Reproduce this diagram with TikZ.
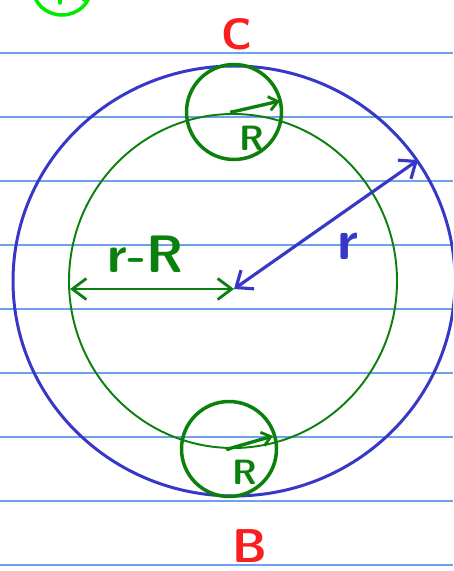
\documentclass[tikz,border=0pt]{standalone}
\usetikzlibrary{arrows.meta}
\definecolor{penblue}{RGB}{55,55,200}
\definecolor{pengreen}{RGB}{12,128,12}
\definecolor{penred}{RGB}{250,30,30}
\definecolor{rulecol}{RGB}{110,160,235}
\definecolor{limegr}{RGB}{0,235,0}
\tikzset{
  rulerline/.style={rulecol, line width=0.9pt},
  bigcirc/.style={penblue, line width=1.7pt},
  midcirc/.style={pengreen, line width=1.1pt},
  smallcirc/.style={pengreen, line width=2pt},
  radarrow/.style={pengreen, line width=1.9pt, line cap=round, -{Straight Barb[length=5pt,width=8pt,line width=1.6pt]}},
  bluearrow/.style={penblue, line width=1.8pt, line cap=round, {Straight Barb[length=8pt,width=13pt,line width=1.8pt]}-{Straight Barb[length=8pt,width=13pt,line width=1.8pt]}},
  greenarrow/.style={pengreen, line width=1.5pt, line cap=round, {Straight Barb[length=8pt,width=12pt,line width=1.6pt]}-{Straight Barb[length=8pt,width=12pt,line width=1.6pt]}},
  hand/.style={inner sep=0pt},
}
\begin{document}
\begin{tikzpicture}[x=0.02cm,y=-0.02cm]
\useasboundingbox (0,0) rectangle (453,571);
\clip (0,0) rectangle (453,571);
% ruled lines
\foreach \yy in {53,117,181,245,309,373,437,501,565}
  \draw[rulerline] (0,\yy) -- (453,\yy);
% partial lime circle at top left
\draw[limegr, line width=2pt] (62,-12) ellipse (29 and 27);
\draw[limegr, line width=2pt, line cap=round] (60,0) -- (60,3);
\draw[limegr, line width=2pt, line cap=round] (84,-2) -- (84,0);
% big circles
\coordinate (O) at (234,289);
\draw[bigcirc] (234,281) ellipse (221 and 215);
\draw[midcirc] (233,281) ellipse (164 and 167);
% small circles
\node[smallcirc, draw, circle, inner sep=0pt, minimum size=1.9cm] (top) at (234,112) {};
\node[smallcirc, draw, circle, inner sep=0pt, minimum size=1.9cm] (bot) at (229,449) {};
% radius arrows R
\coordinate (tc) at (232,112);
\coordinate (te) at (280,101);
\coordinate (bc) at (228,449);
\coordinate (be) at (273,436);
\fill[pengreen] (tc) circle (2.2);
\fill[pengreen] (bc) circle (2.2);
\draw[radarrow] (tc) -- (te);
\draw[radarrow] (bc) -- (be);
\node[hand, pengreen, font=\sffamily\bfseries\fontsize{20}{20}\selectfont] (Rt) at (252,138) {R};
\node[hand, pengreen, font=\sffamily\bfseries\fontsize{20}{20}\selectfont] (Rb) at (245,472) {R};
% blue r arrow
\coordinate (rtip) at (418,160);
\draw[bluearrow] (O) -- (rtip);
\node[hand, penblue, font=\sffamily\bfseries\fontsize{32}{32}\selectfont] (rl) at (348,246) {r};
% green r-R arrow
\coordinate (lft) at (70,289);
\draw[greenarrow] (lft) -- (O);
\node[hand, pengreen, font=\sffamily\bfseries\fontsize{30}{30}\selectfont] (rR) at (146,254) {r-R};
% labels C and B
\node[hand, penred, font=\sffamily\bfseries\fontsize{25}{25}\selectfont] (C) at (237,34) {C};
\node[hand, penred, font=\sffamily\bfseries\fontsize{27}{27}\selectfont] (B) at (250,546) {B};
\end{tikzpicture}
\end{document}
